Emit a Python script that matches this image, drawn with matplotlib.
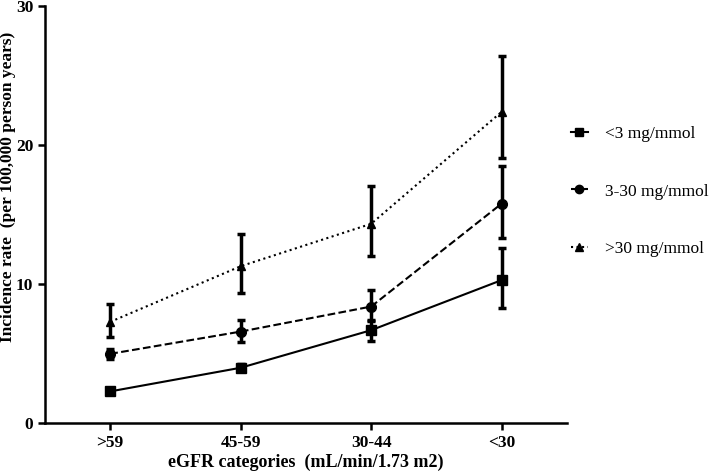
import matplotlib
matplotlib.use("Agg")
from matplotlib import pyplot as plt
from matplotlib.lines import Line2D

categories = [">59", "45-59", "30-44", "<30"]
series_names = ["<3 mg/mmol", "3-30 mg/mmol", ">30 mg/mmol"]

low_mean = [2.3, 4.0, 6.7, 10.3]
low_lo = [2.2, 3.8, 5.9, 8.3]
low_hi = [2.45, 4.25, 7.4, 12.6]

mid_mean = [5.0, 6.6, 8.4, 15.8]
mid_lo = [4.65, 5.85, 7.35, 13.3]
mid_hi = [5.35, 7.4, 9.6, 18.5]

high_mean = [7.3, 11.3, 14.35, 22.4]
high_lo = [6.2, 9.4, 12.05, 19.1]
high_hi = [8.6, 13.6, 17.1, 26.4]

plt.rcParams["font.family"] = ["Liberation Serif", "DejaVu Serif"]

fig = plt.figure(figsize=(7.09, 4.72), dpi=100)
ax = fig.add_axes([0.0635, 0.103, 0.736, 0.884])

x = list(range(len(categories)))
styles = [("-", "s", low_mean, low_lo, low_hi),
          ("--", "o", mid_mean, mid_lo, mid_hi),
          (":", "^", high_mean, high_lo, high_hi)]

handles = []
for (ls, mk, mean, lo, hi), name in zip(styles, series_names):
    err = [[m - l for m, l in zip(mean, lo)], [h - m for m, h in zip(mean, hi)]]
    ax.errorbar(x, mean, yerr=err, fmt="none", ecolor="black",
                elinewidth=2.5, capsize=3, capthick=2.5, zorder=2)
    ax.plot(x, mean, linestyle=ls, marker=mk, color="black", lw=1.5,
            markersize=7 if mk != "^" else 6, zorder=3)
    handles.append(Line2D([0], [0], linestyle=ls, marker=mk, color="black",
                          lw=1.5, markersize=6))

ax.set_xlim(-0.5, 3.5)
ax.set_ylim(0, 30)
ax.set_xticks(x)
ax.set_xticklabels(categories)
ax.set_yticks([0, 10, 20, 30])
for s in ["top", "right"]:
    ax.spines[s].set_visible(False)
for s in ["left", "bottom"]:
    ax.spines[s].set_linewidth(1.8)
ax.tick_params(width=1.8, length=5, labelsize=12.5)
for lab in ax.get_xticklabels() + ax.get_yticklabels():
    lab.set_fontweight("bold")

ax.set_xlabel("eGFR categories  (mL/min/1.73 m2)", fontsize=13, fontweight="bold", labelpad=2)
ax.set_ylabel("Incidence rate  (per 100,000 person years)", fontsize=12.5, fontweight="bold")
ax.yaxis.set_label_coords(-0.055, 0.566)

fig.legend(handles, series_names, loc="upper left", bbox_to_anchor=(0.805, 0.734),
           frameon=False, fontsize=12.5, handlelength=1.0, labelspacing=2.4,
           handletextpad=1.0, borderpad=0, borderaxespad=0)

fig.savefig("out.png", dpi=100)
